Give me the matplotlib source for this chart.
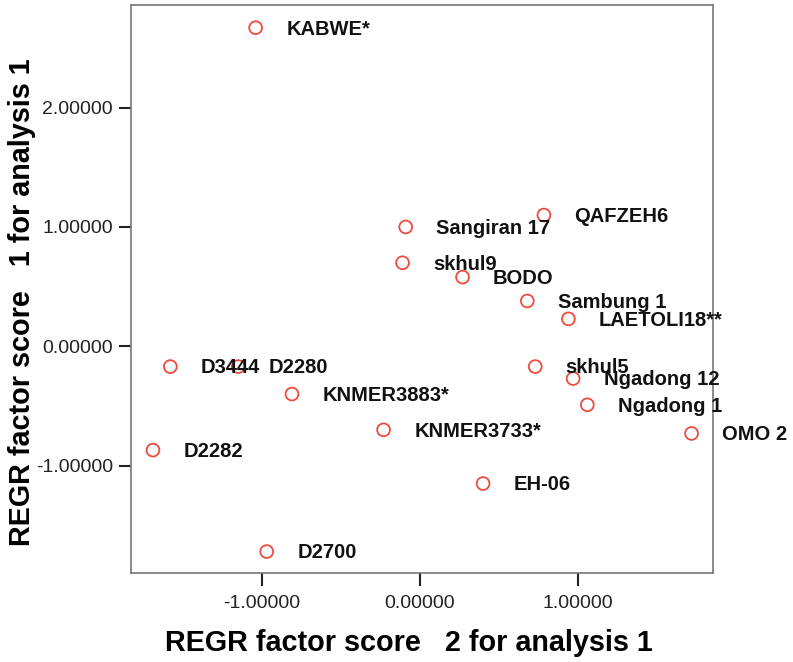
import matplotlib.pyplot as plt
import numpy as np

plt.rcParams['font.family'] = ['Liberation Sans', 'DejaVu Sans']

# REGR factor scores
names = ['KABWE*', 'QAFZEH6', 'Sangiran 17', 'skhul9', 'BODO', 'Sambung 1',
         'LAETOLI18**', 'skhul5', 'Ngadong 12', 'Ngadong 1', 'OMO 2',
         'D3444', 'D2280', 'KNMER3883*', 'KNMER3733*', 'D2282', 'EH-06', 'D2700']
score2 = [-1.04, 0.785, -0.09, -0.11, 0.27, 0.68,
          0.94, 0.73, 0.97, 1.06, 1.72,
          -1.58, -1.15, -0.81, -0.23, -1.69, 0.40, -0.97]
score1 = [2.67, 1.10, 1.00, 0.70, 0.58, 0.38,
          0.23, -0.17, -0.27, -0.49, -0.73,
          -0.17, -0.17, -0.40, -0.70, -0.87, -1.15, -1.72]

xticks = [-1.0, 0.0, 1.0]
yticks = [-1.0, 0.0, 1.0, 2.0]

fig = plt.figure(figsize=(7.93, 6.62), dpi=100)
ax = fig.add_axes([0.165, 0.1344, 0.734, 0.858])

ax.scatter(score2, score1, s=85, facecolors='none', edgecolors='#ee4b3f',
           linewidths=1.3, zorder=3)

for n, x, y in zip(names, score2, score1):
    ax.annotate(n, (x, y), xytext=(22, -1), textcoords='offset points',
                ha='left', va='center', fontsize=14.5, fontweight='bold',
                color='#111111')

ax.set_xlim(-1.83, 1.855)
ax.set_ylim(-1.90, 2.86)
ax.set_xticks(xticks)
ax.set_yticks(yticks)
ax.set_xticklabels([f'{t:.5f}' for t in xticks])
ax.set_yticklabels([f'{t:.5f}' for t in yticks])
ax.tick_params(direction='out', length=9, width=1.5, labelsize=14,
               colors='#222222', pad=4)
ax.tick_params(axis='x', pad=7)

for sp in ax.spines.values():
    sp.set_color('#777777')
    sp.set_linewidth(1.2)

ax.set_xlabel('REGR factor score   2 for analysis 1', fontsize=20.7,
              fontweight='bold')
ax.set_ylabel('REGR factor score   1 for analysis 1', fontsize=20.7,
              fontweight='bold')
ax.xaxis.set_label_coords(0.478, -0.098)
ax.yaxis.set_label_coords(-0.163, 0.477)

fig.savefig('out.png', dpi=100)
